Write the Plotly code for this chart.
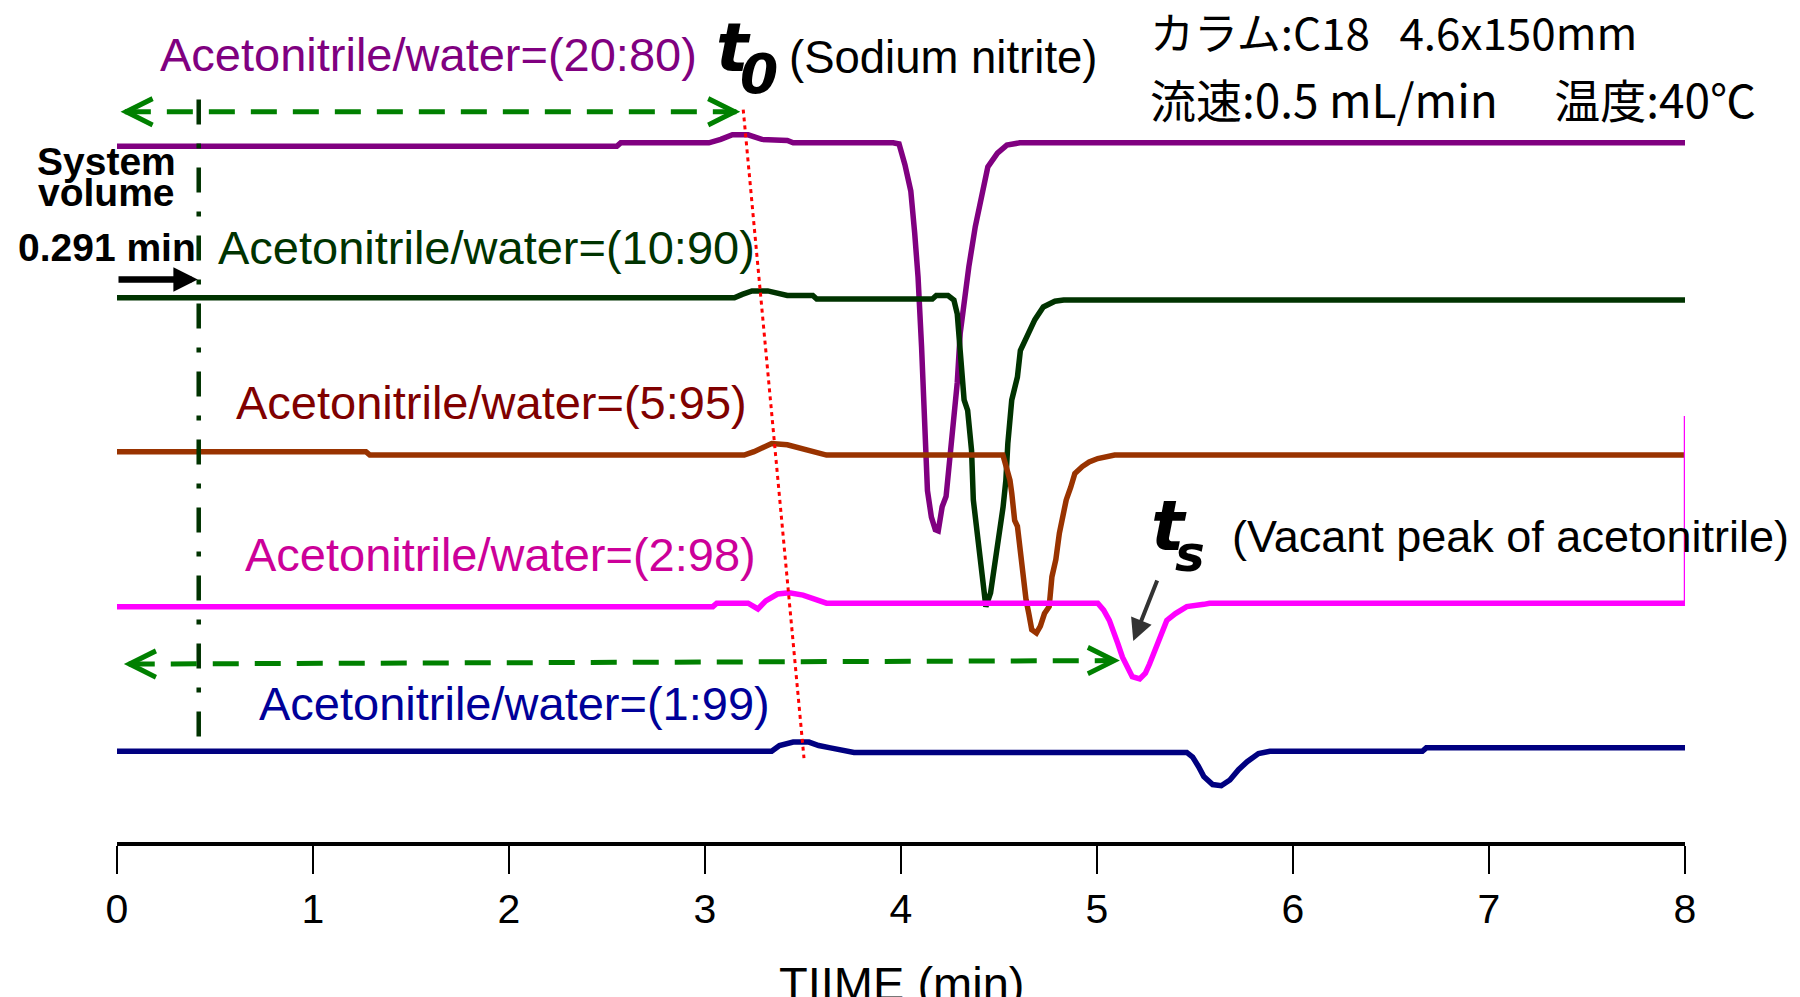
import plotly.graph_objects as go

# ---------------- data (time in min, detector signal in arbitrary units incl. offset) ----------------
t_2080 = [0.00, 2.55, 2.57, 3.02, 3.08, 3.14, 3.22, 3.27, 3.29, 3.42, 3.45, 3.96, 3.99, 4.02, 4.05, 4.07,
          4.087, 4.105, 4.115, 4.122, 4.135, 4.155, 4.175, 4.19, 4.21, 4.23, 4.258, 4.272, 4.287, 4.302,
          4.322, 4.346, 4.379, 4.41, 4.443, 4.492, 4.54, 4.606, 8.00]
s_2080 = [606, 606, 609, 609, 612, 616, 616, 614, 612, 611, 609, 609, 608, 590, 567, 530,
          492, 431, 396, 347, 306, 283, 272, 271, 292, 301, 347, 379, 400, 443,
          472, 501, 536, 559, 588, 600, 607, 609, 609]

t_1090 = [0.00, 3.15, 3.19, 3.24, 3.32, 3.37, 3.42, 3.55, 3.57, 4.16, 4.18, 4.24, 4.27, 4.287, 4.302,
          4.322, 4.34, 4.36, 4.369, 4.389, 4.404, 4.419, 4.433, 4.457, 4.477, 4.497, 4.521, 4.535,
          4.545, 4.565, 4.594, 4.609, 4.652, 4.683, 4.726, 4.785, 4.83, 8.00]
s_1090 = [474, 474, 477, 480, 480, 478, 476, 476, 473, 473, 476, 476, 472, 460, 422,
          385, 376, 341, 298, 269, 240, 217, 205, 217, 240, 257, 292, 315,
          347, 385, 405, 428, 443, 455, 466, 471, 472, 472]

t_0595 = [0.00, 1.27, 1.29, 3.20, 3.25, 3.30, 3.34, 3.42, 3.48, 3.53, 3.58, 3.62, 4.52, 4.535, 4.556,
          4.565, 4.58, 4.594, 4.609, 4.624, 4.638, 4.652, 4.667, 4.691, 4.711, 4.732, 4.756, 4.77,
          4.79, 4.808, 4.829, 4.843, 4.866, 4.887, 4.925, 4.96, 5.004, 5.09, 8.00]
s_0595 = [340, 340, 337, 337, 340, 344, 347, 346, 343, 341, 339, 337, 337, 327, 315,
          304, 280, 275, 252, 234, 211, 199, 185, 182, 188, 199, 205, 231,
          246, 269, 286, 298, 309, 321, 327, 331, 334, 337, 337]

t_0298 = [0.00, 3.04, 3.06, 3.22, 3.27, 3.31, 3.37, 3.43, 3.50, 3.56, 3.60, 3.62, 5.004, 5.034, 5.063,
          5.083, 5.106, 5.13, 5.15, 5.18, 5.218, 5.247, 5.268, 5.297, 5.327, 5.356, 5.40, 5.458,
          5.545, 5.574, 8.00]
s_0298 = [205, 205, 208, 208, 203, 210, 216, 217, 215, 212, 210, 208, 208, 202, 193,
          185, 173, 161, 153, 144, 142, 147, 155, 167, 182, 193, 199, 205,
          207, 208, 208]
t_0298_end = [8.00, 8.00]
s_0298_end = [208, 371]

t_0199 = [0.00, 3.34, 3.38, 3.45, 3.53, 3.58, 3.64, 3.72, 3.76, 5.458, 5.488, 5.517, 5.545, 5.59,
          5.634, 5.678, 5.722, 5.766, 5.824, 5.882, 6.66, 6.68, 8.00]
s_0199 = [79, 79, 84, 87, 87, 84, 82, 80, 78, 78, 74, 66, 57, 50,
          49, 54, 63, 70, 77, 79, 79, 82, 82]

series_names = ["Acetonitrile/water=(20:80)", "Acetonitrile/water=(10:90)", "Acetonitrile/water=(5:95)",
                "Acetonitrile/water=(2:98)", "Acetonitrile/water=(1:99)"]
series_t = [t_2080, t_1090, t_0595, t_0298, t_0199]
series_s = [s_2080, s_1090, s_0595, s_0298, s_0199]
line_colors = ["#800080", "#003300", "#993300", "#FF00FF", "#000080"]
label_colors = ["#800080", "#003300", "#800000", "#CC0099", "#000099"]
label_t = [1.588, 1.887, 1.911, 1.958, 2.028]
label_s = [686, 518, 383, 250, 121]

tick_vals = [0, 1, 2, 3, 4, 5, 6, 7, 8]
tick_text = ["0", "1", "2", "3", "4", "5", "6", "7", "8"]

system_volume_t = 0.417
t0_line_t = [3.195, 3.505]
t0_line_s = [638, 73]

FONT = "Liberation Sans"
TFONT = "DejaVu Sans"

fig = go.Figure()

for name, tt, ss, c in zip(series_names, series_t, series_s, line_colors):
    fig.add_trace(go.Scatter(x=tt, y=ss, mode="lines", name=name,
                             line=dict(color=c, width=5.5), hoverinfo="skip"))
fig.add_trace(go.Scatter(x=t_0298_end, y=s_0298_end, mode="lines",
                         line=dict(color="#FF00FF", width=2.5), hoverinfo="skip", showlegend=False))

# ---------------- shapes ----------------
fig.add_shape(type="line", xref="x", yref="y", x0=system_volume_t, x1=system_volume_t, y0=92, y1=649,
              line=dict(color="#003300", width=4.5, dash="25px,19px,5px,19px"))
fig.add_shape(type="line", xref="x", yref="y", x0=0.04, x1=3.16, y0=636, y1=636,
              line=dict(color="#008000", width=5, dash="26px,16px"))
fig.add_shape(type="line", xref="x", yref="y", x0=0.06, x1=5.09, y0=155, y1=158,
              line=dict(color="#008000", width=5, dash="26px,16px"))
fig.add_shape(type="line", xref="x", yref="y", x0=t0_line_t[0], x1=t0_line_t[1],
              y0=t0_line_s[0], y1=t0_line_s[1],
              line=dict(color="#FF0000", width=3, dash="4px,4px"))

ann = []
# chevron heads of the green dashed arrows
for (x, y, ax) in [(0.018, 636, 16), (3.18, 636, -16), (0.035, 155, 16), (5.117, 158, -16)]:
    ann.append(dict(x=x, y=y, xref="x", yref="y", ax=ax, ay=0, text="", showarrow=True,
                    arrowhead=5, arrowwidth=4.5, arrowsize=1.15, arrowcolor="#008000", standoff=0))
# black arrow toward system volume line
ann.append(dict(x=0.412, y=490, xref="x", yref="y", ax=0.0, ay=490, axref="x", ayref="y",
                text="", showarrow=True, arrowhead=2, arrowwidth=6.5, arrowsize=0.75,
                arrowcolor="black", standoff=0))
# dark gray arrow toward ts
ann.append(dict(x=5.185, y=175, xref="x", yref="y", ax=5.31, ay=229, axref="x", ayref="y",
                text="", showarrow=True, arrowhead=2, arrowwidth=4, arrowsize=1.1,
                arrowcolor="#333333", standoff=0))

# series labels
for name, c, lt, ls in zip(series_names, label_colors, label_t, label_s):
    ann.append(dict(x=lt, y=ls, xref="x", yref="y", text=name, showarrow=False,
                    xanchor="center", yanchor="middle", font=dict(family=FONT, size=47, color=c)))

# t0
ann.append(dict(x=3.147, y=692, xref="x", yref="y", text="<b><i>t</i></b>", showarrow=False,
                xanchor="center", yanchor="middle", font=dict(family=TFONT, size=68, color="black")))
ann.append(dict(x=3.275, y=669, xref="x", yref="y", text="<b><i>0</i></b>", showarrow=False,
                xanchor="center", yanchor="middle", font=dict(family=TFONT, size=55, color="black")))
ann.append(dict(x=3.416, y=683, xref="x", yref="y", text="(Sodium nitrite)", showarrow=False,
                xanchor="left", yanchor="middle", font=dict(family=FONT, size=45.5, color="black")))
# ts
ann.append(dict(x=5.367, y=275, xref="x", yref="y", text="<b><i>t</i></b>", showarrow=False,
                xanchor="center", yanchor="middle", font=dict(family=TFONT, size=70, color="black")))
ann.append(dict(x=5.474, y=251, xref="x", yref="y", text="<b><i>s</i></b>", showarrow=False,
                xanchor="center", yanchor="middle", font=dict(family=TFONT, size=50, color="black")))
ann.append(dict(x=5.678, y=266, xref="x", yref="y", text="(Vacant peak of acetonitrile)", showarrow=False,
                xanchor="left", yanchor="middle", font=dict(family=FONT, size=45, color="black")))
# conditions
ann.append(dict(x=5.26, y=706, xref="x", yref="y", text="カラム:C18\u00a0\u00a0 4.6x150mm", showarrow=False,
                xanchor="left", yanchor="middle", font=dict(family="Noto Sans CJK JP", size=44, color="black")))
ann.append(dict(x=5.26, y=648, xref="x", yref="y", text="流速:0.5 mL/min\u3000 温度:40℃", showarrow=False,
                xanchor="left", yanchor="middle", font=dict(family="Noto Sans CJK JP", size=46, color="black")))
# system volume
for txt, yv in [("<b>System</b>", 593), ("<b>volume</b>", 566), ("<b>0.291 min</b>", 518)]:
    ann.append(dict(x=-0.0064, y=yv, xref="paper", yref="y", text=txt, showarrow=False,
                    xanchor="center", yanchor="middle", font=dict(family=FONT, size=39, color="black")))
# x axis title
ann.append(dict(x=0.5, y=-0.1685, xref="paper", yref="paper", text="TIIME (min)", showarrow=False,
                xanchor="center", yanchor="middle", font=dict(family=FONT, size=47, color="black")))

fig.update_layout(
    width=1800, height=997, autosize=False,
    margin=dict(l=117, r=115, t=0, b=155, pad=0),
    paper_bgcolor="white", plot_bgcolor="white", showlegend=False,
    font=dict(family=FONT, color="black"),
    annotations=ann,
)
fig.update_xaxes(range=[0, 8], tickmode="array", tickvals=tick_vals, ticktext=tick_text,
                 showline=True, linecolor="black", linewidth=3.5, ticks="outside", ticklen=28,
                 tickwidth=2, tickcolor="black", tickfont=dict(family=FONT, size=41, color="black"),
                 showgrid=False, zeroline=False, ticklabelstandoff=0)
fig.update_yaxes(range=[0, 733.4], visible=False, showgrid=False, zeroline=False)

fig.write_html("out.html", config={"displayModeBar": False},
               post_script="document.body.style.margin='0';document.body.style.overflow='hidden';")
